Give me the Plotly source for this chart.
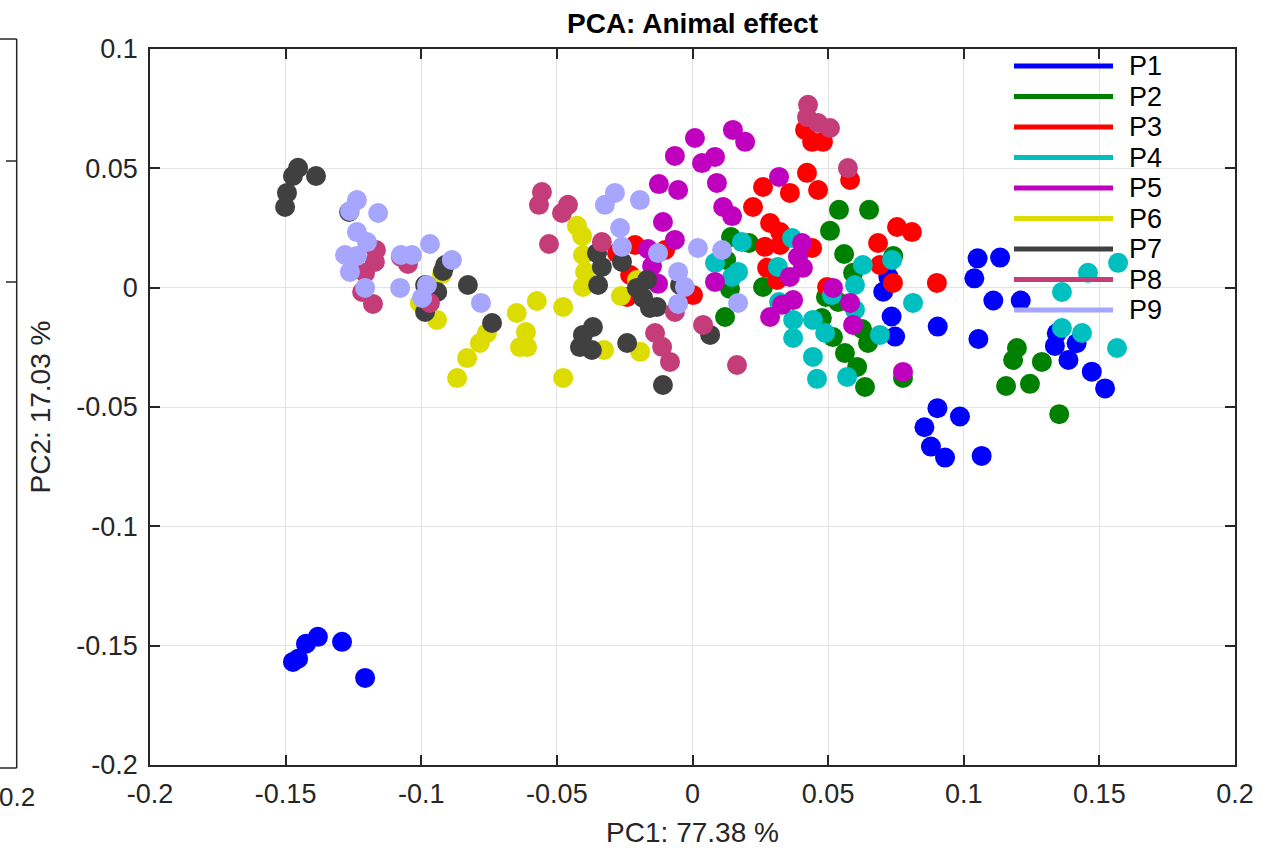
import plotly.graph_objects as go

# ---------------- data (PC1, PC2) ----------------
series_names = ["P1", "P2", "P3", "P4", "P5", "P6", "P7", "P8", "P9"]
series_colors = ["#0000FF", "#008000", "#FF0000", "#00BFBF", "#BF00BF",
                 "#DCDC00", "#404040", "#C43D78", "#A6A6FF"]

p1_x = [-0.1473, -0.1454, -0.1425, -0.1381, -0.1292, -0.1207,
        0.1051, 0.1134, 0.1039, 0.1109, 0.1210, 0.0904, 0.1054, 0.1343, 0.1336,
        0.1416, 0.1386, 0.1472, 0.1521, 0.0903, 0.0986, 0.0855, 0.0879, 0.0931,
        0.1066, 0.0734, 0.0703, 0.0747, 0.0722]
p1_y = [-0.1568, -0.1555, -0.1492, -0.1463, -0.1484, -0.1635,
        0.0123, 0.0126, 0.0039, -0.0054, -0.0054, -0.0163, -0.0215, -0.0191, -0.0244,
        -0.0233, -0.0303, -0.0352, -0.0422, -0.0505, -0.0540, -0.0585, -0.0666, -0.0712,
        -0.0705, -0.0121, -0.0017, -0.0205, 0.0046]

p2_x = [0.0540, 0.0651, 0.0507, 0.0559, 0.0592, 0.0740, 0.0492, 0.0537, 0.0477,
        0.0518, 0.0625, 0.0647, 0.0562, 0.0607, 0.0636, 0.0776, 0.0142, 0.0208,
        0.0124, 0.0138, 0.0260, 0.0120, 0.1196, 0.1182, 0.1288, 0.1156, 0.1244, 0.1352]
p2_y = [0.0326, 0.0326, 0.0238, 0.0141, 0.0062, 0.0133, -0.0039, -0.0060, -0.0127,
        -0.0207, -0.0173, -0.0232, -0.0274, -0.0332, -0.0416, -0.0378, 0.0212, 0.0187,
        0.0116, -0.0005, 0.0003, -0.0123, -0.0253, -0.0303, -0.0311, -0.0412, -0.0403, -0.0530]

p3_x = [0.0415, 0.0441, 0.0481, 0.0422, 0.0463, 0.0581, 0.0260, 0.0359, 0.0223,
        0.0286, 0.0323, 0.0267, 0.0323, 0.0441, 0.0275, 0.0312, 0.0754, 0.0809,
        0.0684, 0.0691, 0.0739, 0.0901, 0.0496, -0.0212, -0.0101, -0.0230, -0.0241,
        0.0002, -0.0278]
p3_y = [0.0661, 0.0611, 0.0611, 0.0481, 0.0409, 0.0451, 0.0422, 0.0397, 0.0338,
        0.0271, 0.0233, 0.0171, 0.0179, 0.0166, 0.0083, 0.0032, 0.0254, 0.0233,
        0.0187, 0.0095, 0.0020, 0.0020, 0.0003, 0.0179, 0.0158, 0.0053, -0.0039,
        -0.0031, 0.0145]

p4_x = [0.0182, 0.0083, 0.0168, 0.0146, 0.0367, 0.0315, 0.0319, 0.0371, 0.0444,
        0.0489, 0.0371, 0.0444, 0.0459, 0.0570, 0.0691, 0.0599, 0.0599, 0.0628,
        0.0736, 0.0514, 0.1569, 0.1458, 0.1362, 0.1362, 0.1436, 0.1565, 0.0813]
p4_y = [0.0191, 0.0104, 0.0066, 0.0045, 0.0208, 0.0087, -0.0060, -0.0135, -0.0135,
        -0.0190, -0.0211, -0.0290, -0.0382, -0.0374, -0.0198, -0.0093, 0.0011, 0.0095,
        0.0116, -0.0031, 0.0104, 0.0062, -0.0018, -0.0169, -0.0190, -0.0253, -0.0064]

p5_x = [0.0149, 0.0194, 0.0009, -0.0065, 0.0035, 0.0083, 0.0090, -0.0124, -0.0053,
        0.0113, 0.0146, -0.0109, 0.0319, -0.0065, -0.0164, -0.0149, -0.0127, 0.0083,
        0.0404, 0.0389, 0.0407, 0.0359, 0.0518, 0.0581, 0.0592, 0.0371, 0.0330,
        0.0286, 0.0776]
p5_y = [0.0661, 0.0611, 0.0627, 0.0552, 0.0522, 0.0548, 0.0439, 0.0434, 0.0409,
        0.0338, 0.0300, 0.0275, 0.0464, 0.0200, 0.0162, 0.0091, 0.0016, 0.0024,
        0.0187, 0.0129, 0.0083, 0.0045, -0.0001, -0.0064, -0.0156, -0.0052, -0.0072,
        -0.0123, -0.0353]

p6_x = [-0.0574, -0.0648, -0.0614, -0.0610, -0.0636, -0.0758, -0.0784, -0.0831,
        -0.0868, -0.0942, -0.0924, -0.1005, -0.0426, -0.0407, -0.0404, -0.0396,
        -0.0404, -0.0477, -0.0264, -0.0326, -0.0193, -0.0477, -0.0205]
p6_y = [-0.0056, -0.0106, -0.0186, -0.0249, -0.0249, -0.0190, -0.0232, -0.0295,
        -0.0379, -0.0135, 0.0057, -0.0064, 0.0259, 0.0217, 0.0137, 0.0066,
        0.0003, -0.0081, -0.0035, -0.0261, -0.0269, -0.0378, 0.0032]

p7_x = [-0.1502, -0.1495, -0.1473, -0.1454, -0.1388, -0.1266, -0.0912, -0.0920,
        -0.0986, -0.0941, -0.0986, -0.0828, -0.0739, -0.0352, -0.0334, -0.0260,
        -0.0348, -0.0205, -0.0168, -0.0182, -0.0157, -0.0131, -0.0046, -0.0367,
        -0.0404, -0.0415, -0.0371, -0.0241, -0.0109, 0.0065]
p7_y = [0.0338, 0.0397, 0.0468, 0.0502, 0.0468, 0.0317, 0.0095, 0.0070,
        0.0011, -0.0018, -0.0102, 0.0011, -0.0148, 0.0145, 0.0087, 0.0108,
        0.0011, -0.0001, 0.0032, -0.0043, -0.0085, -0.0081, 0.0011, -0.0165,
        -0.0198, -0.0249, -0.0261, -0.0232, -0.0408, -0.0198]

p8_x = [-0.0555, -0.0566, -0.0529, -0.0459, -0.0481, -0.0334, -0.1167, -0.1171,
        -0.1207, -0.1218, -0.1178, -0.1049, -0.1075, -0.0968, -0.0065, -0.0138,
        -0.0112, -0.0083, 0.0039, 0.0164, 0.0426, 0.0422, 0.0463, 0.0507, 0.0573]
p8_y = [0.0401, 0.0347, 0.0183, 0.0347, 0.0313, 0.0191, 0.0158, 0.0108,
        0.0062, -0.0018, -0.0068, 0.0099, 0.0129, -0.0064, -0.0102, -0.0190,
        -0.0248, -0.0311, -0.0156, -0.0324, 0.0766, 0.0715, 0.0690, 0.0669, 0.0501]

p9_x = [-0.1237, -0.1263, -0.1159, -0.1237, -0.1200, -0.1281, -0.1237, -0.1263,
        -0.1207, -0.1075, -0.1034, -0.0968, -0.1078, -0.0887, -0.0979, -0.0997,
        -0.0780, -0.0286, -0.0323, -0.0194, -0.0267, -0.0260, -0.0127, 0.0020,
        0.0109, -0.0053, -0.0028, -0.0053, 0.0168]
p9_y = [0.0367, 0.0321, 0.0313, 0.0233, 0.0191, 0.0137, 0.0133, 0.0066,
        -0.0001, 0.0137, 0.0137, 0.0183, -0.0001, 0.0116, 0.0011, -0.0043,
        -0.0064, 0.0397, 0.0347, 0.0367, 0.0250, 0.0171, 0.0145, 0.0166,
        0.0158, 0.0066, 0.0003, -0.0068, -0.0064]

series_x = [p1_x, p2_x, p3_x, p4_x, p5_x, p6_x, p7_x, p8_x, p9_x]
series_y = [p1_y, p2_y, p3_y, p4_y, p5_y, p6_y, p7_y, p8_y, p9_y]

x_ticks = [-0.2, -0.15, -0.1, -0.05, 0, 0.05, 0.1, 0.15, 0.2]
x_ticklabels = ["-0.2", "-0.15", "-0.1", "-0.05", "0", "0.05", "0.1", "0.15", "0.2"]
y_ticks = [-0.2, -0.15, -0.1, -0.05, 0, 0.05, 0.1]
y_ticklabels = ["-0.2", "-0.15", "-0.1", "-0.05", "0", "0.05", "0.1"]

title_text = "PCA: Animal effect"
x_label = "PC1: 77.38 %"
y_label = "PC2: 17.03 %"

# ---------------- figure ----------------
W, H = 1283, 850
ML, MR, MT, MB = 150, 48, 49, 85
PW, PH = W - ML - MR, H - MT - MB
FONT = "Arial, Liberation Sans, Helvetica, sans-serif"
AX = "#262626"


def px_to_paper_x(px):
    return (px - ML) / PW


def py_to_paper_y(py):
    return (H - MB - py) / PH


fig = go.Figure()
for name, col, xs, ys in zip(series_names, series_colors, series_x, series_y):
    fig.add_trace(go.Scatter(
        x=xs, y=ys, mode="markers", name=name, showlegend=False,
        marker=dict(color=col, size=20, line=dict(width=0)),
    ))

axis_common = dict(
    showgrid=True, gridcolor="#e3e3e3", gridwidth=1,
    zeroline=False, showline=True, linecolor=AX, linewidth=1.5,
    mirror="ticks", ticks="inside", ticklen=10, tickwidth=1.5, tickcolor=AX,
    tickfont=dict(family=FONT, size=27, color=AX),
)

fig.update_xaxes(range=[-0.2, 0.2], tickvals=x_ticks, ticktext=x_ticklabels,
                 title=dict(text=x_label, font=dict(family=FONT, size=28, color=AX), standoff=14),
                 ticklabelstandoff=4, **axis_common)
fig.update_yaxes(range=[-0.2, 0.1], tickvals=y_ticks, ticktext=y_ticklabels,
                 title=dict(text=y_label, font=dict(family=FONT, size=28, color=AX), standoff=18),
                 ticklabelstandoff=5, **axis_common)

shapes = []
annotations = []

# custom legend (long line samples like the original)
leg_x0, leg_x1, leg_text = 1014, 1113, 1127
leg_y0, leg_dy = 66, 30.5
for i, (name, col) in enumerate(zip(series_names, series_colors)):
    yy = py_to_paper_y(leg_y0 + i * leg_dy)
    shapes.append(dict(type="line", xref="paper", yref="paper",
                       x0=px_to_paper_x(leg_x0), x1=px_to_paper_x(leg_x1), y0=yy, y1=yy,
                       line=dict(color=col, width=5), layer="above"))
    annotations.append(dict(text=name, xref="paper", yref="paper",
                            x=px_to_paper_x(leg_text), y=yy, xanchor="left", yanchor="middle",
                            showarrow=False, font=dict(family=FONT, size=27, color="#000000")))

# edge of neighbouring subplot (cut off at the left)
ex = px_to_paper_x(16.7)
shapes.append(dict(type="line", xref="paper", yref="paper", x0=ex, x1=ex,
                   y0=py_to_paper_y(768), y1=py_to_paper_y(39), line=dict(color=AX, width=1.5)))
for yy in (39, 768):
    shapes.append(dict(type="line", xref="paper", yref="paper", x0=px_to_paper_x(-2), x1=ex,
                       y0=py_to_paper_y(yy), y1=py_to_paper_y(yy), line=dict(color=AX, width=1.5)))
for yy in (161, 282):
    shapes.append(dict(type="line", xref="paper", yref="paper", x0=px_to_paper_x(6), x1=ex,
                       y0=py_to_paper_y(yy), y1=py_to_paper_y(yy), line=dict(color=AX, width=1.5)))
annotations.append(dict(text="0.2", xref="paper", yref="paper", x=px_to_paper_x(37), y=py_to_paper_y(797),
                        xanchor="right", yanchor="middle", showarrow=False,
                        font=dict(family=FONT, size=26, color=AX)))

fig.update_layout(
    width=W, height=H,
    margin=dict(l=ML, r=MR, t=MT, b=MB, autoexpand=False),
    paper_bgcolor="white", plot_bgcolor="white",
    title=dict(text="<b>" + title_text + "</b>", x=0.5, xref="paper", xanchor="center",
               y=1 - 23 / H, yref="container", yanchor="middle",
               font=dict(family=FONT, size=28, color="#000000")),
    shapes=shapes, annotations=annotations, showlegend=False,
)

fig.write_html("out.html")
